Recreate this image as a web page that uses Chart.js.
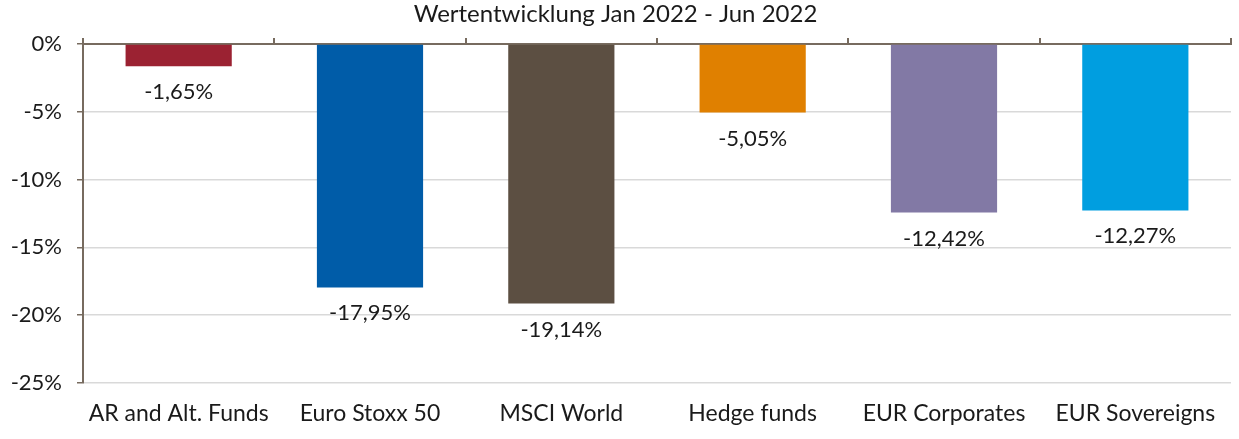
<!DOCTYPE html>
<html>
<head>
<meta charset="utf-8">
<script src="https://cdn.jsdelivr.net/npm/chart.js@4.4.1/dist/chart.umd.min.js"></script>
<style>
html,body{margin:0;padding:0;background:#fff;}
#wrap{width:1239px;height:439px;}
</style>
</head>
<body>
<div id="wrap"><canvas id="c"></canvas></div>
<script>
const categories = ["AR and Alt. Funds", "Euro Stoxx 50", "MSCI World", "Hedge funds", "EUR Corporates", "EUR Sovereigns"];
const values = [-1.65, -17.95, -19.14, -5.05, -12.42, -12.27];
const barColors = ["#9b2232", "#005ca8", "#5c4f42", "#e08000", "#8279a5", "#009ee0"];
const titleText = "Wertentwicklung Jan 2022 - Jun 2022";
const yMin = -25, yMax = 0, yStep = 5;

const FONT = "Lato, 'Open Sans', sans-serif";
const AXIS = "#776b5f";

const valueLabels = {
  id: 'valueLabels',
  afterDatasetsDraw(chart) {
    const ctx = chart.ctx;
    const meta = chart.getDatasetMeta(0);
    ctx.save();
    ctx.font = "22px " + FONT;
    ctx.fillStyle = "#1a1a1a";
    ctx.textAlign = "center";
    ctx.textBaseline = "middle";
    meta.data.forEach((el, i) => {
      const v = values[i];
      ctx.fillText(v.toFixed(2).replace('.', ',') + '%', el.x, el.y + 26);
    });
    ctx.restore();
  }
};

new Chart(document.getElementById('c'), {
  type: 'bar',
  data: {
    labels: categories,
    datasets: [{
      data: values,
      backgroundColor: barColors,
      borderWidth: 0,
      categoryPercentage: 1,
      barPercentage: 0.555
    }]
  },
  options: {
    responsive: true,
    maintainAspectRatio: false,
    animation: false,
    devicePixelRatio: 1,
    layout: { padding: { left: 0, right: 8, top: 0, bottom: 0 } },
    plugins: {
      legend: { display: false },
      tooltip: { enabled: false },
      title: {
        display: true,
        text: titleText,
        color: "#1a1a1a",
        font: { family: FONT, size: 24, weight: 'normal', lineHeight: 1.2 },
        padding: { top: 0, bottom: 0 }
      }
    },
    scales: {
      x: {
        type: 'category',
        position: 'bottom',
        offset: true,
        grid: { display: false },
        border: { display: false },
        ticks: { color: "#1a1a1a", font: { family: FONT, size: 23 }, padding: 9, maxRotation: 0, autoSkip: false },
        afterFit(s) { s.height = 56; }
      },
      x2: {
        type: 'category',
        labels: categories,
        position: 'top',
        offset: true,
        grid: { offset: true, drawOnChartArea: false, tickLength: 6, tickColor: AXIS, lineWidth: 2 },
        border: { display: true, color: AXIS, width: 2 },
        ticks: { display: false },
        afterFit(s) { s.height = 15.2; }
      },
      y: {
        min: yMin,
        max: yMax,
        ticks: {
          stepSize: yStep,
          color: "#1a1a1a",
          font: { family: FONT, size: 22 },
          padding: 15,
          callback: v => v + '%'
        },
        grid: {
          color: ctx => (ctx.tick && ctx.tick.value === 0) ? AXIS : "#d9d9d9",
          lineWidth: 1.5,
          tickLength: 6,
          tickColor: AXIS
        },
        border: { display: true, color: AXIS, width: 2 },
        afterFit(s) { s.width = 83; }
      }
    }
  },
  plugins: [valueLabels]
});
</script>
</body>
</html>
